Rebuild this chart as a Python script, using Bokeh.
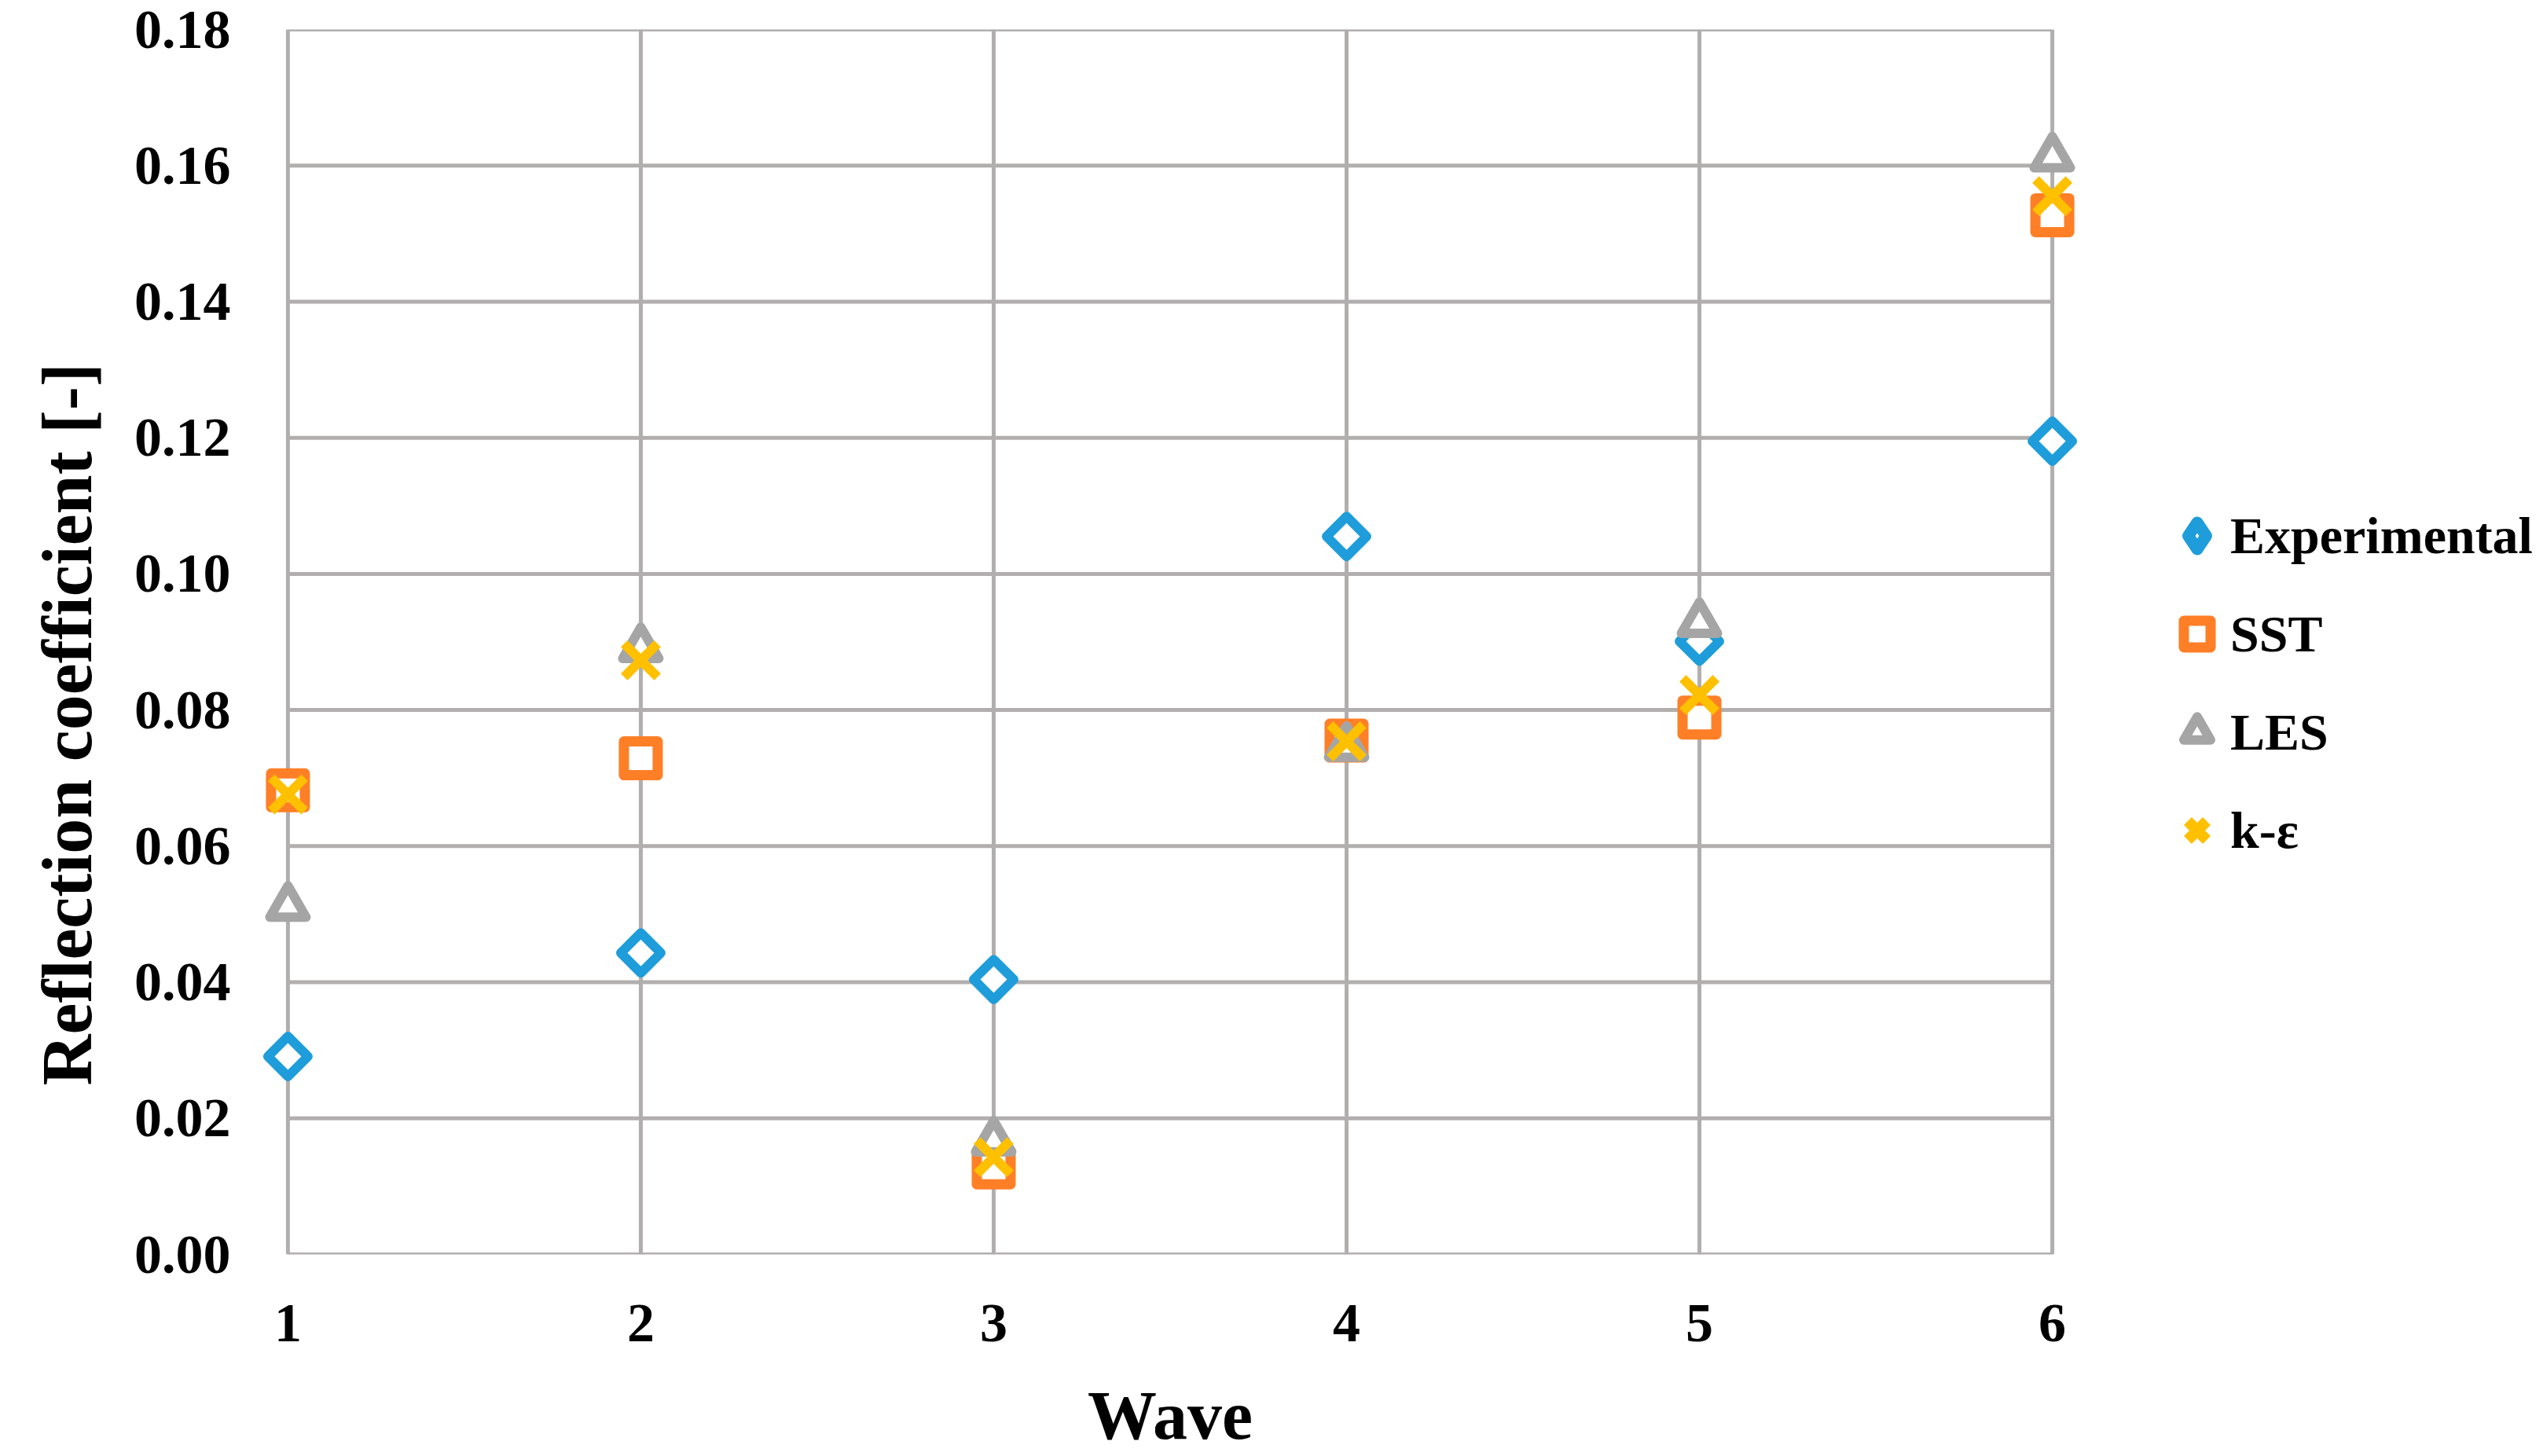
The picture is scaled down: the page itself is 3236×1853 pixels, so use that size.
import math
from bokeh.plotting import figure
from bokeh.layouts import row
from bokeh.models import Range1d, FixedTicker, Legend, LegendItem, Title
from bokeh.embed import file_html
from bokeh.resources import INLINE

# ---- data ----
waves = [1, 2, 3, 4, 5, 6]
experimental = [0.0291, 0.0443, 0.0404, 0.1055, 0.0901, 0.1195]
sst = [0.0682, 0.0729, 0.0128, 0.0755, 0.0789, 0.1527]
les = [0.0511, 0.0891, 0.0166, 0.0746, 0.0928, 0.1612]
k_eps = [0.0676, 0.0873, 0.0143, 0.0754, 0.0822, 0.1555]

series_names = ["Experimental", "SST", "LES", "k-ε"]
x_ticks = [1, 2, 3, 4, 5, 6]
y_ticks = [0.00, 0.02, 0.04, 0.06, 0.08, 0.10, 0.12, 0.14, 0.16, 0.18]
y_tick_labels = ["0.00", "0.02", "0.04", "0.06", "0.08", "0.10", "0.12", "0.14", "0.16", "0.18"]
x_title = "Wave"
y_title = "Reflection coefficient [-]"

# ---- style ----
BLUE = "#1E9DDA"
ORANGE = "#FF7F27"
GRAY = "#A5A5A5"
YELLOW = "#FFC000"
GRID = "#B1AEAE"
FONT = "Liberation Serif"

H = 1852
PW = 2656          # main figure width (frame right edge)
LW = 576           # legend figure width

styles = {
    "Experimental": dict(marker="square", angle=math.pi / 4, size=36, fill_color="white",
                         line_color=BLUE, line_width=12, line_join="round"),
    "SST": dict(marker="square", size=43, fill_color="white",
                line_color=ORANGE, line_width=13, line_join="round"),
    "LES": dict(marker="triangle", size=46, fill_color="white",
                line_color=GRAY, line_width=12, line_join="round"),
    "k-ε": dict(marker="x", size=60, line_color=YELLOW, line_width=12, line_cap="butt"),
}
# legend glyph tweaks (legend markers are drawn unrotated at a common size)
legend_styles = {
    "Experimental": dict(marker="diamond", line_width=15),
    "k-ε": dict(line_width=14),
}
values = {"Experimental": experimental, "SST": sst, "LES": les, "k-ε": k_eps}

p = figure(width=PW, height=H,
           x_range=Range1d(0.9, 6.1), y_range=Range1d(0.0, 0.18),
           output_backend="svg", toolbar_location=None,
           min_border_left=319, min_border_right=0,
           min_border_top=37, min_border_bottom=H - 1597)
p.outline_line_color = None
p.grid.visible = False

# gridlines only over the data extent (like Excel)
xmin, xmax = x_ticks[0], x_ticks[-1]
ymin, ymax = y_ticks[0], y_ticks[-1]
p.segment(x0=[xmin] * len(y_ticks), y0=y_ticks, x1=[xmax] * len(y_ticks), y1=y_ticks,
          line_color=GRID, line_width=5)
p.segment(x0=x_ticks, y0=[ymin] * len(x_ticks), x1=x_ticks, y1=[ymax] * len(x_ticks),
          line_color=GRID, line_width=5)

for name in series_names:
    p.scatter(waves, values[name], **styles[name])

for ax in (p.xaxis, p.yaxis):
    ax.axis_line_color = None
    ax.major_tick_line_color = None
    ax.minor_tick_line_color = None
    ax.major_label_text_font = FONT
    ax.major_label_text_font_style = "bold"
    ax.major_label_text_font_size = "70px"
    ax.major_label_text_color = "black"

p.xaxis.ticker = FixedTicker(ticks=x_ticks)
p.yaxis.ticker = FixedTicker(ticks=y_ticks)
p.yaxis.major_label_overrides = {t: l for t, l in zip(y_ticks, y_tick_labels)}
p.xaxis.major_label_overrides = {t: str(t) for t in x_ticks}
p.yaxis.major_label_standoff = 22
p.xaxis.major_label_standoff = 58

p.xaxis.axis_label = x_title
p.xaxis.axis_label_text_font = FONT
p.xaxis.axis_label_text_font_style = "bold"
p.xaxis.axis_label_text_font_size = "88px"
p.xaxis.axis_label_text_color = "black"
p.xaxis.axis_label_standoff = 43

# y title sits a little below the frame centre in the original
p.add_layout(Title(text=y_title, align="left", offset=215, standoff=66,
                   text_font=FONT, text_font_style="bold", text_font_size="90px",
                   text_color="black"), "left")

# ---- legend panel (separate figure to the right) ----
# its x-range lies left of the data, so the series points themselves are not drawn here;
# the renderers only supply the legend glyphs
lf = figure(width=LW, height=H, x_range=Range1d(-2, -1), y_range=Range1d(0, 1),
            output_backend="svg", toolbar_location=None,
            x_axis_type=None, y_axis_type=None, min_border=0)
lf.outline_line_color = None
lf.grid.visible = False

leg_items = []
for name in series_names:
    st = dict(styles[name])
    st.pop("angle", None)
    st.update(legend_styles.get(name, {}))
    r = lf.scatter(waves, values[name], **st)
    leg_items.append(LegendItem(label=name, renderers=[r]))

legend = Legend(items=leg_items, location=(97, 492), glyph_width=85, glyph_height=95,
                label_height=95, spacing=30, label_standoff=0, padding=0, margin=0,
                border_line_color=None, background_fill_alpha=0,
                label_text_font=FONT, label_text_font_style="bold",
                label_text_font_size="66px", label_text_color="black")
lf.add_layout(legend)

layout = row(p, lf)
open("out.html", "w").write(file_html(layout, INLINE))
